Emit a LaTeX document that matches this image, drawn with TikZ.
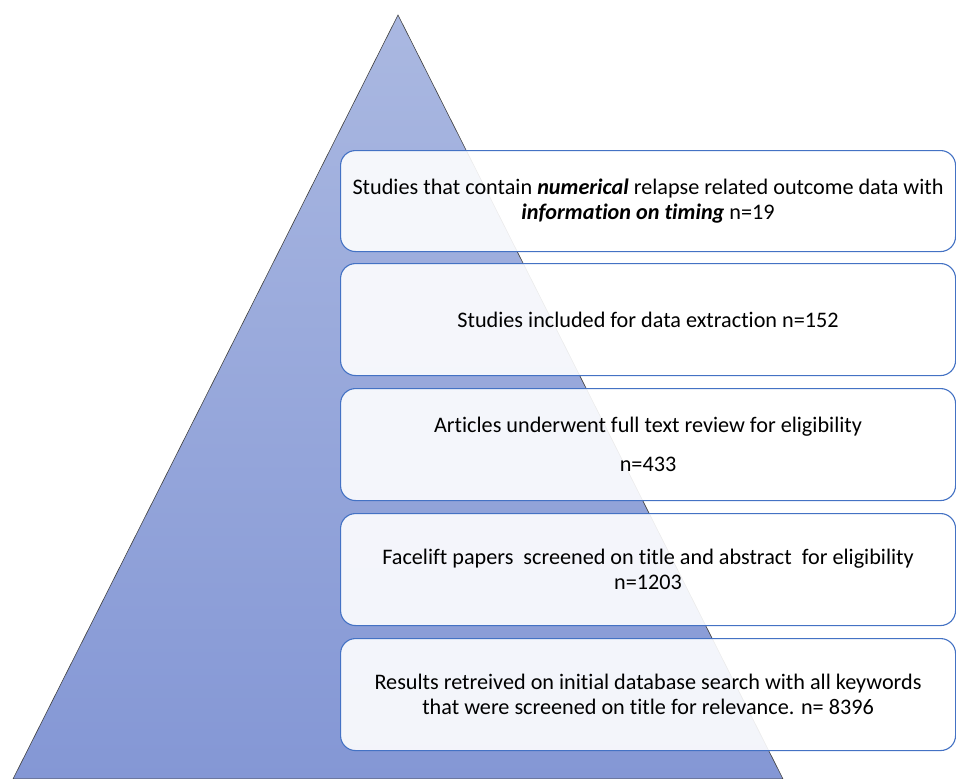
\documentclass[tikz,border=0pt]{standalone}
\usepackage{fontspec}
\setmainfont[Ligatures={NoCommon}]{Carlito}
\definecolor{triTop}{HTML}{AAB8E1}
\definecolor{triBot}{HTML}{8497D5}
\definecolor{boxLine}{HTML}{4472C4}
\begin{document}
\begin{tikzpicture}[x=1pt,y=-1pt,
  stagebox/.style={draw=boxLine, line width=1.1pt, fill=white, fill opacity=0.9, text opacity=1,
    rounded corners=15pt, minimum width=615pt, anchor=north west, align=center,
    inner sep=0pt, font=\fontsize{22.2}{25.5}\selectfont}]
\useasboundingbox (0,0) rectangle (956,779);
\shade[top color=triTop, bottom color=triBot, draw=black!75, line width=0.6pt]
  (398,15) -- (783,779) -- (13,779) -- cycle;
\node[stagebox, minimum height=101pt] (s1) at (340,150)
  {Studies that contain \textbf{\textit{numerical}} relapse related outcome data with\\
   \textbf{\textit{information on timing}} n=19};
\node[stagebox, minimum height=112pt] (s2) at (340,263)
  {Studies included for data extraction n=152};
\node[stagebox, minimum height=112pt] (s3) at (340,388)
  {Articles underwent full text review for eligibility\\[14pt] n=433};
\node[stagebox, minimum height=112pt] (s4) at (340,513)
  {Facelift papers\ \ screened on title and abstract\ \ for eligibility\\ n=1203};
\node[stagebox, minimum height=112pt] (s5) at (340,638)
  {Results retreived on initial database search with all keywords\\
   that were screened on title for relevance. n= 8396};
\end{tikzpicture}
\end{document}
